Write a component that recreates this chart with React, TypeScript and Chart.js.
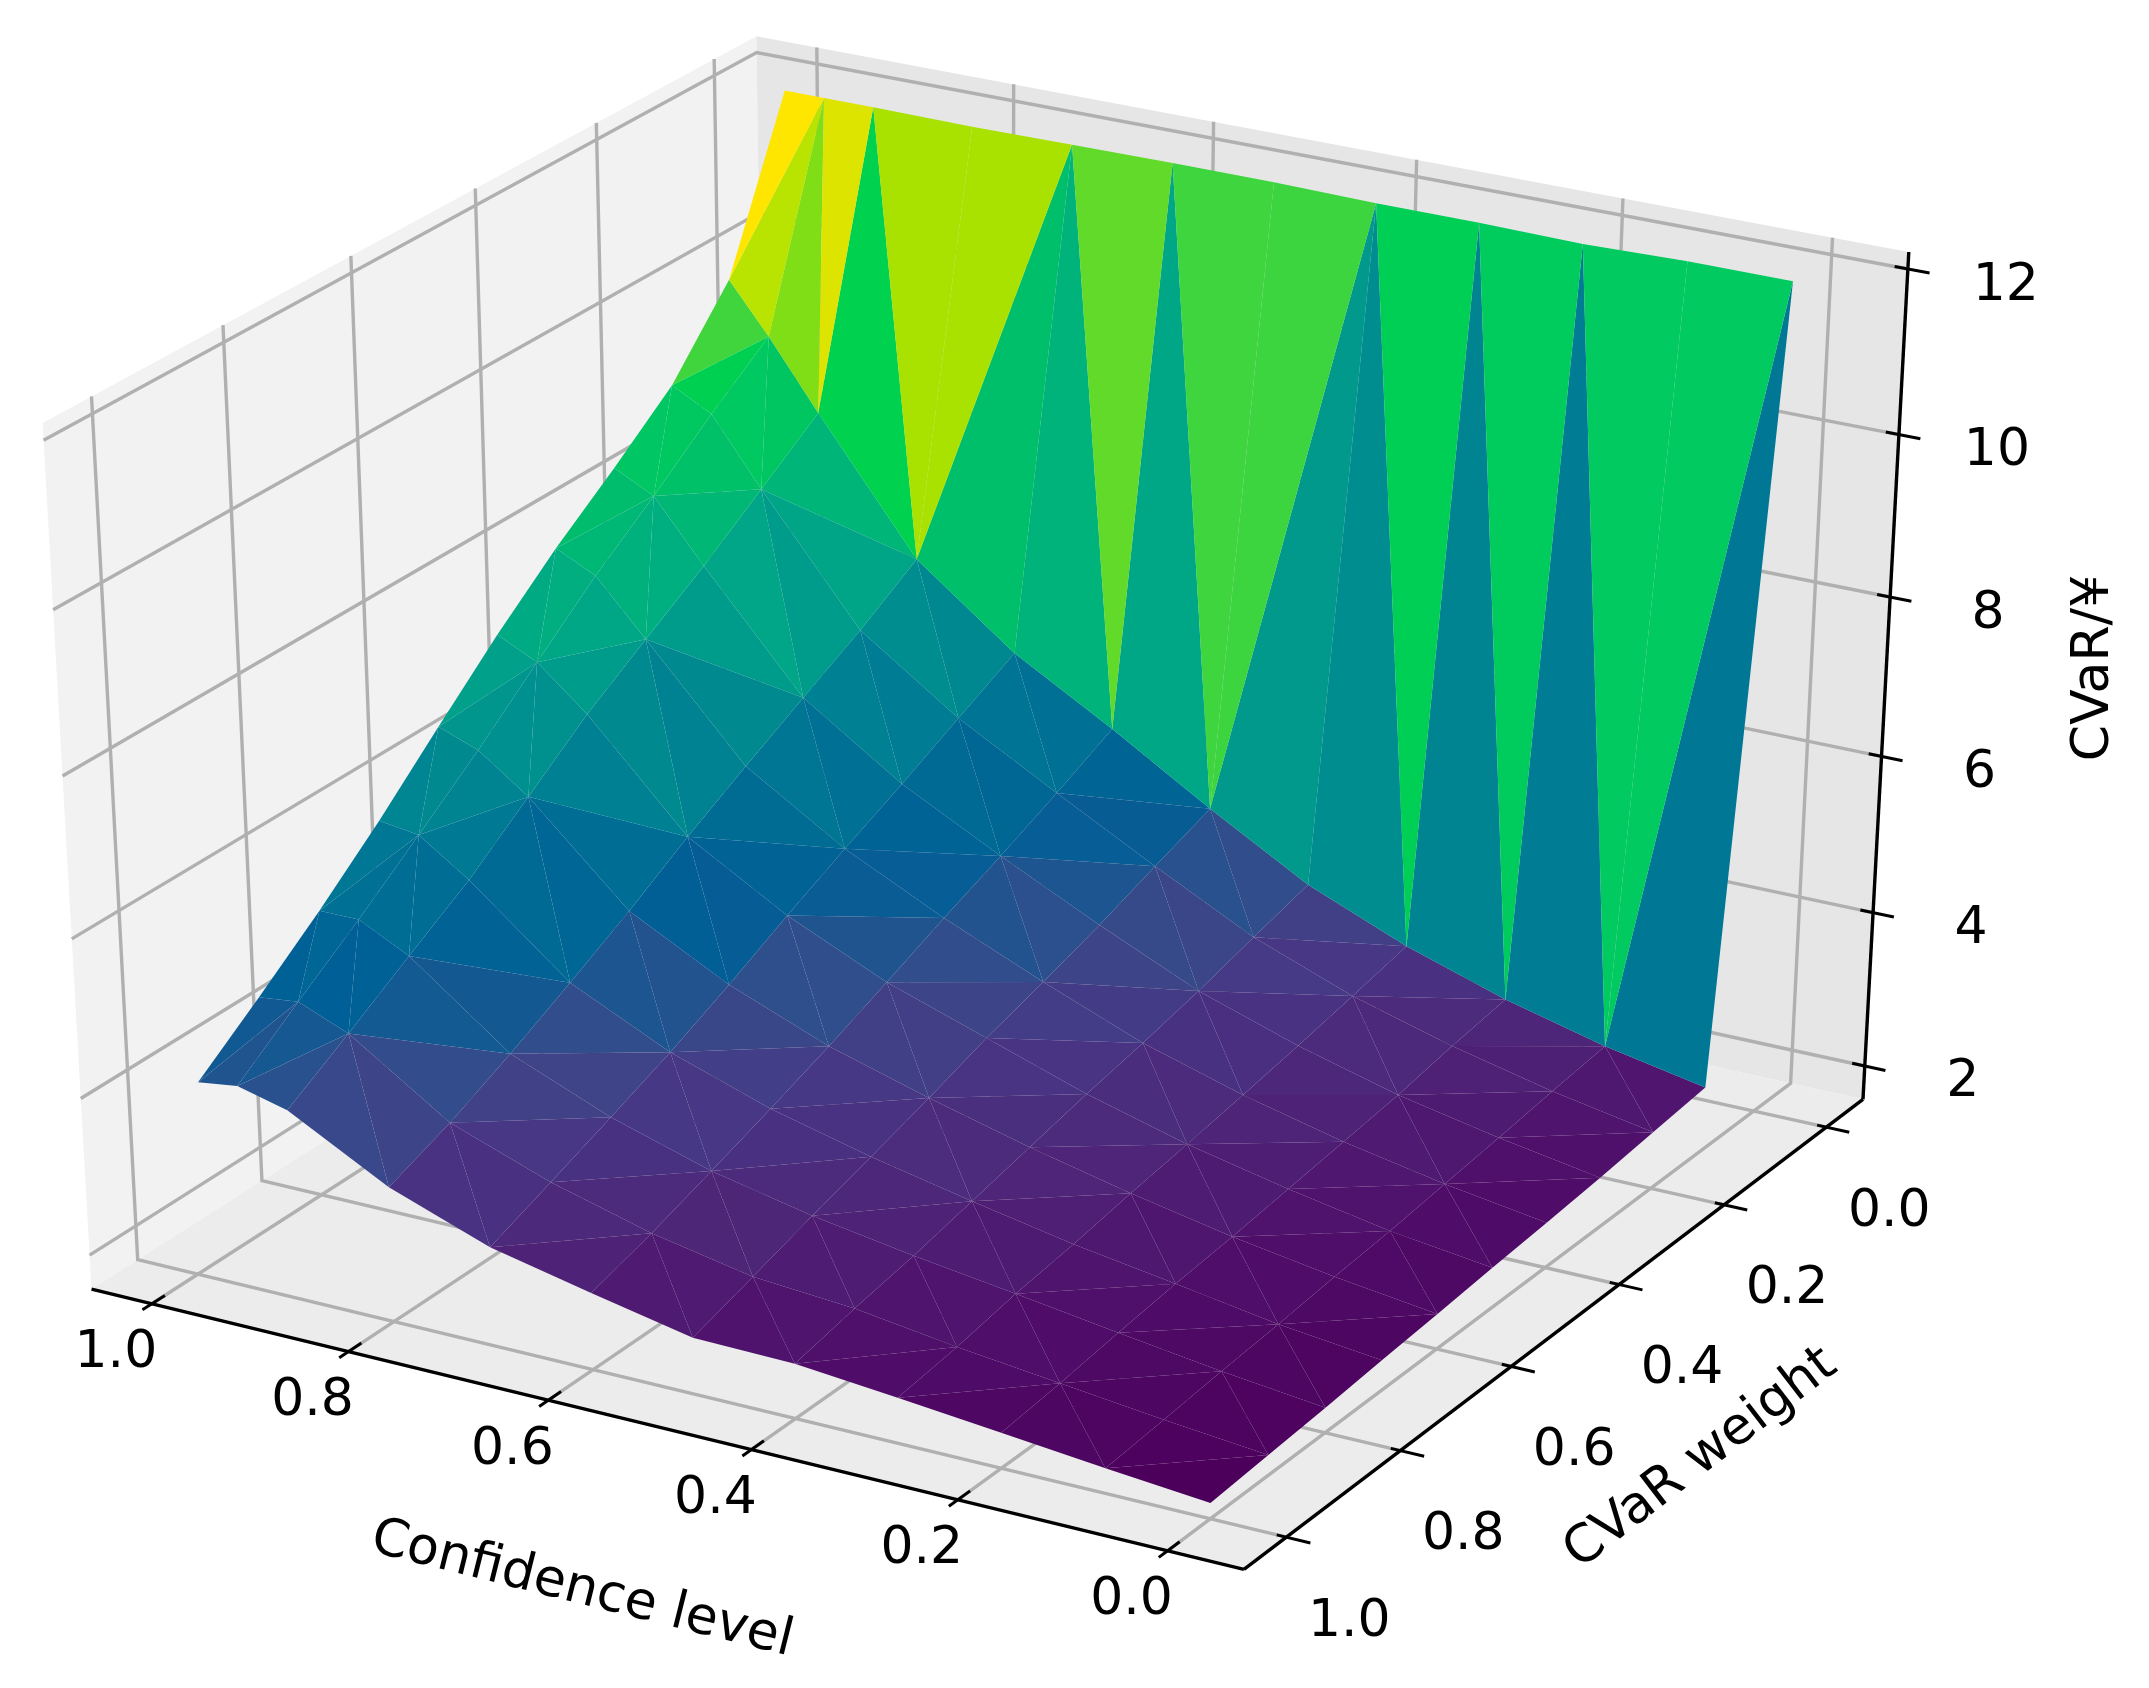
import React, { useEffect, useRef } from "react";
import { Chart, registerables } from "chart.js";

Chart.register(...registerables);

const confidenceLevels = [0, 0.1, 0.2, 0.3, 0.4, 0.5, 0.6, 0.7, 0.8, 0.9, 0.95, 0.99];
const cvarWeights = [0, 0.1, 0.2, 0.3, 0.4, 0.5, 0.6, 0.7, 0.8, 0.9, 1];

const cvarW00 = [11.98, 11.98, 11.95, 11.97, 11.97, 11.99, 11.99, 11.98, 11.97, 11.98, 11.98, 11.98];
const cvarW01 = [2.37, 2.62, 2.94, 3.35, 3.87, 4.58, 5.34, 6.05, 6.99, 8.59, 9.43, 10.04];
const cvarW02 = [2.29, 2.53, 2.83, 3.19, 3.67, 4.31, 4.98, 5.67, 6.53, 8.06, 8.88, 9.14];
const cvarW03 = [2.21, 2.43, 2.69, 3.04, 3.46, 4.03, 4.64, 5.29, 6.12, 7.53, 8.28, 8.53];
const cvarW04 = [2.14, 2.34, 2.59, 2.9, 3.28, 3.78, 4.32, 4.93, 5.71, 7.05, 7.72, 7.96];
const cvarW05 = [2.08, 2.25, 2.49, 2.77, 3.12, 3.55, 3.98, 4.55, 5.28, 6.56, 7.08, 7.32];
const cvarW06 = [2.01, 2.18, 2.39, 2.65, 2.94, 3.28, 3.65, 4.15, 4.81, 5.98, 6.43, 6.62];
const cvarW07 = [1.95, 2.1, 2.31, 2.51, 2.76, 3.03, 3.35, 3.78, 4.38, 5.4, 5.83, 5.9];
const cvarW08 = [1.88, 2.03, 2.21, 2.4, 2.58, 2.79, 3.06, 3.45, 3.97, 4.92, 5.24, 5.24];
const cvarW09 = [1.82, 1.95, 2.1, 2.25, 2.43, 2.53, 2.78, 3.13, 3.59, 4.43, 4.69, 4.63];
const cvarW10 = [1.76, 1.88, 2.01, 2.14, 2.26, 2.28, 2.54, 2.82, 3.28, 3.96, 4.12, 4.05];
const cvarByWeight = [cvarW00, cvarW01, cvarW02, cvarW03, cvarW04, cvarW05, cvarW06, cvarW07, cvarW08, cvarW09, cvarW10];

// Triangulation: which diagonal splits each grid cell, row per weight step.
const cellDiagonals = [
  "HSSSHSSHSSH",
  "SHHHSHSSHSH",
  "HHSHSHSSSHS",
  "HSHSHSHSHSH",
  "SHHSHHHHSHS",
  "SHSHHSSSHSH",
  "HSSHSHHSSHS",
  "SHHSHHSHHSH",
  "SHSSSSHHHSS",
  "HSHHSSHSSHH",
];

const confidenceTicks = [0, 0.2, 0.4, 0.6, 0.8, 1];
const weightTicks = [0, 0.2, 0.4, 0.6, 0.8, 1];
const cvarTicks = [2, 4, 6, 8, 10, 12];

const colorStops: [number, string][] = [
  [0, "#4c005c"], [0.05, "#4f0f6b"], [0.1, "#4e2578"], [0.16, "#483584"], [0.2, "#3f4388"], [0.24, "#2f4f8c"],
  [0.28, "#0f5a93"], [0.31, "#005f96"], [0.36, "#006a94"], [0.42, "#007c94"], [0.5, "#00928e"],
  [0.55, "#00a18a"], [0.6, "#00ad82"], [0.65, "#00b874"], [0.7, "#00c266"], [0.75, "#00cc5e"],
  [0.78, "#00d24c"], [0.81, "#3fd53e"], [0.835, "#60da2a"], [0.89, "#a6e200"], [0.95, "#dde400"], [1, "#ffe600"],
];

const xLim = [-0.072, 1.062];
const yLim = [-0.073, 1.073];
const zLim = [1.56, 12.203];
const ELEV = (30 * Math.PI) / 180;
const AZIM = (120 * Math.PI) / 180;
const DIST = 9.6;

const n = [Math.cos(AZIM) * Math.cos(ELEV), Math.sin(AZIM) * Math.cos(ELEV), Math.sin(ELEV)];
const uLen = Math.hypot(n[0], n[1]);
const u = [-n[1] / uLen, n[0] / uLen, 0];
const v = [n[1] * u[2] - n[2] * u[1], n[2] * u[0] - n[0] * u[2], n[0] * u[1] - n[1] * u[0]];

type P = { x: number; y: number; w: number };
function cube(X: number, Y: number, Z: number): P {
  const p = [X - 0.5, Y - 0.5, Z - 0.5];
  const dot = (a: number[]) => a[0] * p[0] + a[1] * p[1] + a[2] * p[2];
  const w = DIST - dot(n);
  return { x: dot(u) / w, y: dot(v) / w, w };
}
const nx = (x: number) => (x - xLim[0]) / (xLim[1] - xLim[0]);
const ny = (y: number) => (y - yLim[0]) / (yLim[1] - yLim[0]);
const nz = (z: number) => (z - zLim[0]) / (zLim[1] - zLim[0]);
const world = (x: number, y: number, z: number) => cube(nx(x), ny(y), nz(z));

function hexRgb(h: string) {
  return [1, 3, 5].map((k) => parseInt(h.slice(k, k + 2), 16));
}
function rampColor(t: number) {
  for (let k = 1; k < colorStops.length; k++) {
    if (t <= colorStops[k][0]) {
      const [t0, c0] = colorStops[k - 1];
      const [t1, c1] = colorStops[k];
      const f = (t - t0) / (t1 - t0);
      const a = hexRgb(c0);
      const b = hexRgb(c1);
      return `rgb(${a.map((va, m) => Math.round(va + (b[m] - va) * f)).join(",")})`;
    }
  }
  return colorStops[colorStops.length - 1][1];
}

function poly(points: P[], color: string) {
  return {
    data: points.map((p) => ({ x: p.x, y: p.y })),
    showLine: true,
    fill: "shape",
    backgroundColor: color,
    borderColor: "rgba(0,0,0,0)",
    borderWidth: 0,
    pointRadius: 0,
  };
}
function line(points: P[], color: string, width: number) {
  return {
    data: points.map((p) => ({ x: p.x, y: p.y })),
    showLine: true,
    fill: false,
    borderColor: color,
    borderWidth: width,
    borderCapStyle: "butt",
    pointRadius: 0,
  };
}

function buildDatasets() {
  const out: any[] = [];
  // panes
  out.push(poly([cube(1, 0, 0), cube(1, 1, 0), cube(1, 1, 1), cube(1, 0, 1)], "#f2f2f2"));
  out.push(poly([cube(0, 0, 0), cube(1, 0, 0), cube(1, 0, 1), cube(0, 0, 1)], "#e6e6e6"));
  out.push(poly([cube(0, 0, 0), cube(1, 0, 0), cube(1, 1, 0), cube(0, 1, 0)], "#ececec"));
  // grid
  const grid = "#b0b0b0";
  const gw = 3.4;
  for (const t of confidenceTicks) {
    const X = nx(t);
    out.push(line([cube(X, 1, 0), cube(X, 0, 0), cube(X, 0, 1)], grid, gw));
  }
  for (const t of weightTicks) {
    const Y = ny(t);
    out.push(line([cube(0, Y, 0), cube(1, Y, 0), cube(1, Y, 1)], grid, gw));
  }
  for (const t of cvarTicks) {
    const Z = nz(t);
    out.push(line([cube(1, 1, Z), cube(1, 0, Z), cube(0, 0, Z)], grid, gw));
  }
  // axes
  out.push(line([cube(1, 1, 0), cube(0, 1, 0)], "#000", 3.4));
  out.push(line([cube(0, 1, 0), cube(0, 0, 0)], "#000", 3.4));
  out.push(line([cube(0, 0, 0), cube(0, 0, 1)], "#000", 3.4));
  for (const t of confidenceTicks) {
    const X = nx(t);
    out.push(line([cube(X, 1 - 0.018, 0), cube(X, 1 + 0.013, 0)], "#000", 3));
  }
  for (const t of weightTicks) {
    const Y = ny(t);
    out.push(line([cube(0.008, Y, 0), cube(-0.02, Y, 0)], "#000", 3));
  }
  for (const t of cvarTicks) {
    const Z = nz(t);
    out.push(line([cube(0.011, 0, Z), cube(-0.018, 0, Z)], "#000", 3));
  }
  // surface triangles
  type Tri = { pts: P[]; avg: number; depth: number };
  const tris: Tri[] = [];
  const vert = (i: number, j: number) => ({
    p: world(confidenceLevels[i], cvarWeights[j], cvarByWeight[j][i]),
    z: cvarByWeight[j][i],
  });
  const addTri = (a: any, b: any, c: any) =>
    tris.push({ pts: [a.p, b.p, c.p], avg: (a.z + b.z + c.z) / 3, depth: (a.p.w + b.p.w + c.p.w) / 3 });
  for (let j = 0; j < cvarWeights.length - 1; j++) {
    for (let i = 0; i < confidenceLevels.length - 1; i++) {
      const a = vert(i, j);
      const b = vert(i + 1, j);
      const c = vert(i + 1, j + 1);
      const d = vert(i, j + 1);
      if (cellDiagonals[j][i] === "H") {
        addTri(a, b, c);
        addTri(a, c, d);
      } else {
        addTri(a, b, d);
        addTri(b, c, d);
      }
    }
  }
  const lo = Math.min(...tris.map((t) => t.avg));
  const hi = Math.max(...tris.map((t) => t.avg));
  tris.sort((p, q) => q.depth - p.depth);
  for (const t of tris) out.push(poly(t.pts, rampColor((t.avg - lo) / (hi - lo))));
  return out.reverse();
}

const PX_PER_X = 12770;
const PX_PER_Y = 9490;
const CX = 991.5;
const CY = 775.5;
const W = 2149;
const H = 1688;

const textPlugin = {
  id: "axisText",
  afterDraw(chart: any) {
    const { ctx, scales } = chart;
    const sx = (p: P) => scales.x.getPixelForValue(p.x);
    const sy = (p: P) => scales.y.getPixelForValue(p.y);
    ctx.save();
    ctx.fillStyle = "#000";
    ctx.textAlign = "center";
    ctx.textBaseline = "middle";
    ctx.font = '52px "DejaVu Sans"';
    for (const t of confidenceTicks) {
      const p = cube(nx(t), 1, 0);
      ctx.fillText(t.toFixed(1), sx(p) - 36, sy(p) + 50);
    }
    for (const t of weightTicks) {
      const p = cube(0, ny(t), 0);
      ctx.fillText(t.toFixed(1), sx(p) + 63, sy(p) + 85);
    }
    for (const t of cvarTicks) {
      const p = cube(0, 0, nz(t));
      ctx.fillText(String(t), sx(p) + 98, sy(p) + 17);
    }
    const labels: [string, number, number, number][] = [
      ["Confidence level", 582, 1590, 14],
      ["CVaR weight", 1701, 1459, -37.6],
      ["CVaR/\u00a5", 2094, 668, -90],
    ];
    for (const [text, lx, ly, rot] of labels) {
      ctx.save();
      ctx.translate(lx, ly);
      ctx.rotate((rot * Math.PI) / 180);
      ctx.fillText(text, 0, 0);
      ctx.restore();
    }
    ctx.restore();
  },
};

export default function App() {
  const ref = useRef<HTMLCanvasElement>(null);
  useEffect(() => {
    const chart = new Chart(ref.current as HTMLCanvasElement, {
      type: "scatter",
      data: { datasets: buildDatasets() },
      options: {
        animation: false,
        responsive: false,
        devicePixelRatio: 1,
        layout: { padding: 0 },
        events: [],
        plugins: { legend: { display: false }, tooltip: { enabled: false } },
        scales: {
          x: { type: "linear", display: false, min: -CX / PX_PER_X, max: (W - CX) / PX_PER_X },
          y: { type: "linear", display: false, min: (CY - H) / PX_PER_Y, max: CY / PX_PER_Y },
        },
      },
      plugins: [textPlugin],
    } as any);
    return () => chart.destroy();
  }, []);
  return (
    <canvas
      ref={ref}
      width={W}
      height={H}
      style={{ position: "fixed", left: 0, top: 0, width: W, height: H, display: "block" }}
    />
  );
}
